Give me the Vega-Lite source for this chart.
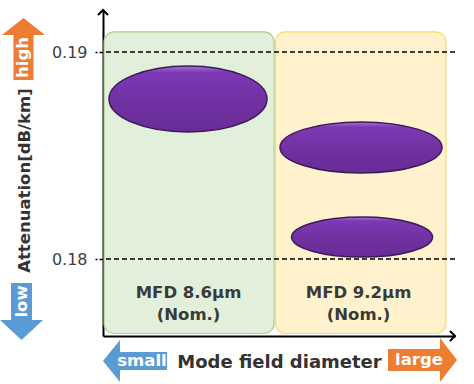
{
  "$schema": "https://vega.github.io/schema/vega-lite/v6.json",
  "width": 352,
  "height": 326,
  "autosize": {"type": "none"},
  "padding": {"left": 103, "top": 10, "right": 19, "bottom": 48},
  "config": {"view": {"stroke": null}, "font": "DejaVu Sans"},
  "datasets": {
    "regions": [
      {"group": "8.6", "x": 0.03, "x2": 4.86, "y": 0.1764, "y2": 0.19097},
      {"group": "9.2", "x": 4.9, "x2": 9.74, "y": 0.1764, "y2": 0.19097}
    ],
    "levels": [{"value": 0.18}, {"value": 0.19}],
    "ellipses": [
      {"id": "A", "mfd": "8.6", "x": 2.415, "att": 0.18773},
      {"id": "B", "mfd": "9.2", "x": 7.33, "att": 0.18539},
      {"id": "C", "mfd": "9.2", "x": 7.36, "att": 0.18106}
    ],
    "labels": [
      {"x": 2.43, "att": 0.17836, "text": "MFD 8.6μm\n(Nom.)"},
      {"x": 7.26, "att": 0.17836, "text": "MFD 9.2μm\n(Nom.)"}
    ],
    "arrows": [
      {"dir": "high", "x": -2.259, "att": 0.19015, "tx": -2.273, "tatt": 0.18974},
      {"dir": "low", "x": -2.315, "att": 0.17746, "tx": -2.287, "tatt": 0.17795},
      {"dir": "small", "x": 0.909, "att": 0.17507, "tx": 1.108, "tatt": 0.17507},
      {"dir": "large", "x": 9.077, "att": 0.17512, "tx": 8.977, "tatt": 0.17512}
    ],
    "axisEnds": [
      {"end": "y", "x": 0, "att": 0.19203},
      {"end": "x", "x": 10, "att": 0.17628}
    ]
  },
  "layer": [
    {
      "data": {"name": "regions"},
      "mark": {"type": "rect", "cornerRadius": 10, "strokeWidth": 1.2},
      "encoding": {
        "x": {
          "field": "x", "type": "quantitative",
          "scale": {"domain": [0, 10], "nice": false, "zero": false},
          "axis": {
            "domain": true, "domainColor": "black", "domainWidth": 2,
            "ticks": false, "labels": false, "grid": false,
            "title": "Mode field diameter", "titleX": 176, "titleY": 26,
            "titleAlign": "center", "titleBaseline": "middle",
            "titleFontSize": 18, "titleFontWeight": "bold", "titleColor": "#333333",
            "titleFont": "DejaVu Sans", "titlePadding": 0
          }
        },
        "x2": {"field": "x2"},
        "y": {
          "field": "y", "type": "quantitative",
          "scale": {"domain": [0.17628, 0.19203], "nice": false, "zero": false},
          "axis": {
            "values": [0.18, 0.19], "format": ".2f", "grid": false,
            "domainColor": "black", "domainWidth": 2,
            "tickColor": "black", "tickSize": 8, "tickWidth": 1.5, "tickDash": [4, 2],
            "labelFontSize": 16, "labelColor": "#404040", "labelPadding": 8, "labelFont": "DejaVu Sans",
            "title": "Attenuation[dB/km]", "titleX": -79, "titleY": 170, "titleAngle": -90,
            "titleAlign": "center", "titleBaseline": "middle",
            "titleFontSize": 16.5, "titleFontWeight": "bold", "titleColor": "#333333", "titleFont": "DejaVu Sans"
          }
        },
        "y2": {"field": "y2"},
        "fill": {"field": "group", "type": "nominal", "scale": {"domain": ["8.6", "9.2"], "range": ["#e2efda", "#fff2cc"]}, "legend": null},
        "stroke": {"field": "group", "type": "nominal", "scale": {"domain": ["8.6", "9.2"], "range": ["#a9d18e", "#ffd966"]}, "legend": null}
      }
    },
    {
      "data": {"name": "levels"},
      "mark": {"type": "rule", "strokeDash": [5, 3], "strokeWidth": 1.5, "color": "black"},
      "encoding": {"y": {"field": "value", "type": "quantitative"}}
    },
    {
      "data": {"name": "ellipses"},
      "transform": [{"filter": "datum.id === 'A'"}],
      "mark": {
        "type": "point", "filled": true, "opacity": 1,
        "shape": "M -1 0 A 1 0.418 0 1 1 1 0 A 1 0.418 0 1 1 -1 0 Z",
        "size": 24964,
        "fill": {"gradient": "linear", "x1": 0, "y1": 0, "x2": 0, "y2": 1,
          "stops": [{"offset": 0, "color": "#a476d6"}, {"offset": 0.1, "color": "#7c38b4"}, {"offset": 0.6, "color": "#7030a0"}, {"offset": 1, "color": "#682c96"}]},
        "stroke": "#3b1a57", "strokeWidth": 1.5
      },
      "encoding": {"x": {"field": "x", "type": "quantitative"}, "y": {"field": "att", "type": "quantitative"}}
    },
    {
      "data": {"name": "ellipses"},
      "transform": [{"filter": "datum.id === 'B'"}],
      "mark": {
        "type": "point", "filled": true, "opacity": 1,
        "shape": "M -1 0 A 1 0.315 0 1 1 1 0 A 1 0.315 0 1 1 -1 0 Z",
        "size": 26244,
        "fill": {"gradient": "linear", "x1": 0, "y1": 0, "x2": 0, "y2": 1,
          "stops": [{"offset": 0, "color": "#a476d6"}, {"offset": 0.1, "color": "#7c38b4"}, {"offset": 0.6, "color": "#7030a0"}, {"offset": 1, "color": "#682c96"}]},
        "stroke": "#3b1a57", "strokeWidth": 1.5
      },
      "encoding": {"x": {"field": "x", "type": "quantitative"}, "y": {"field": "att", "type": "quantitative"}}
    },
    {
      "data": {"name": "ellipses"},
      "transform": [{"filter": "datum.id === 'C'"}],
      "mark": {
        "type": "point", "filled": true, "opacity": 1,
        "shape": "M -1 0 A 1 0.284 0 1 1 1 0 A 1 0.284 0 1 1 -1 0 Z",
        "size": 19881,
        "fill": {"gradient": "linear", "x1": 0, "y1": 0, "x2": 0, "y2": 1,
          "stops": [{"offset": 0, "color": "#a476d6"}, {"offset": 0.1, "color": "#7c38b4"}, {"offset": 0.6, "color": "#7030a0"}, {"offset": 1, "color": "#682c96"}]},
        "stroke": "#3b1a57", "strokeWidth": 1.5
      },
      "encoding": {"x": {"field": "x", "type": "quantitative"}, "y": {"field": "att", "type": "quantitative"}}
    },
    {
      "data": {"name": "labels"},
      "mark": {"type": "text", "lineBreak": "\n", "lineHeight": 22, "fontSize": 16.5, "fontWeight": "bold", "color": "#3a3a3a", "align": "center", "baseline": "middle", "font": "DejaVu Sans"},
      "encoding": {"x": {"field": "x", "type": "quantitative"}, "y": {"field": "att", "type": "quantitative"}, "text": {"field": "text"}}
    },
    {
      "data": {"name": "arrows"},
      "transform": [{"filter": "datum.dir === 'high'"}],
      "mark": {"type": "point", "filled": true, "opacity": 1, "clip": false, "color": "#ed7d31", "strokeWidth": 0,
        "shape": "M 0 -1 L 0.694 -0.452 L 0.323 -0.452 L 0.323 1 L -0.323 1 L -0.323 -0.452 L -0.694 -0.452 Z", "size": 3844},
      "encoding": {"x": {"field": "x", "type": "quantitative"}, "y": {"field": "att", "type": "quantitative"}}
    },
    {
      "data": {"name": "arrows"},
      "transform": [{"filter": "datum.dir === 'low'"}],
      "mark": {"type": "point", "filled": true, "opacity": 1, "clip": false, "color": "#5b9bd5", "strokeWidth": 0,
        "shape": "M 0 1 L 0.754 0.298 L 0.368 0.298 L 0.368 -1 L -0.368 -1 L -0.368 0.298 L -0.754 0.298 Z", "size": 3249},
      "encoding": {"x": {"field": "x", "type": "quantitative"}, "y": {"field": "att", "type": "quantitative"}}
    },
    {
      "data": {"name": "arrows"},
      "transform": [{"filter": "datum.dir === 'small'"}],
      "mark": {"type": "point", "filled": true, "opacity": 1, "clip": false, "color": "#5b9bd5", "strokeWidth": 0,
        "shape": "M -1 0 L -0.469 -0.656 L -0.469 -0.281 L 1 -0.281 L 1 0.281 L -0.469 0.281 L -0.469 0.656 Z", "size": 4096},
      "encoding": {"x": {"field": "x", "type": "quantitative"}, "y": {"field": "att", "type": "quantitative"}}
    },
    {
      "data": {"name": "arrows"},
      "transform": [{"filter": "datum.dir === 'large'"}],
      "mark": {"type": "point", "filled": true, "opacity": 1, "clip": false, "color": "#ed7d31", "strokeWidth": 0,
        "shape": "M 1 0 L 0.507 -0.638 L 0.507 -0.319 L -1 -0.319 L -1 0.319 L 0.507 0.319 L 0.507 0.638 Z", "size": 4761},
      "encoding": {"x": {"field": "x", "type": "quantitative"}, "y": {"field": "att", "type": "quantitative"}}
    },
    {
      "data": {"name": "arrows"},
      "transform": [{"filter": "datum.dir === 'high' || datum.dir === 'low'"}],
      "mark": {"type": "text", "angle": 270, "fontSize": 16.5, "fontWeight": "bold", "color": "white", "align": "center", "baseline": "middle", "font": "DejaVu Sans"},
      "encoding": {"x": {"field": "tx", "type": "quantitative"}, "y": {"field": "tatt", "type": "quantitative"}, "text": {"field": "dir"}}
    },
    {
      "data": {"name": "arrows"},
      "transform": [{"filter": "datum.dir === 'small' || datum.dir === 'large'"}],
      "mark": {"type": "text", "fontSize": 16.5, "fontWeight": "bold", "color": "white", "align": "center", "baseline": "middle", "font": "DejaVu Sans"},
      "encoding": {"x": {"field": "tx", "type": "quantitative"}, "y": {"field": "tatt", "type": "quantitative"}, "text": {"field": "dir"}}
    },
    {
      "data": {"name": "axisEnds"},
      "transform": [{"filter": "datum.end === 'y'"}],
      "mark": {"type": "point", "filled": false, "opacity": 1, "stroke": "black", "strokeWidth": 2, "shape": "M -1 1 L 0 0 L 1 1", "size": 100},
      "encoding": {"x": {"field": "x", "type": "quantitative"}, "y": {"field": "att", "type": "quantitative"}}
    },
    {
      "data": {"name": "axisEnds"},
      "transform": [{"filter": "datum.end === 'x'"}],
      "mark": {"type": "point", "filled": false, "opacity": 1, "stroke": "black", "strokeWidth": 2, "shape": "M -1 -1 L 0 0 L -1 1", "size": 100},
      "encoding": {"x": {"field": "x", "type": "quantitative"}, "y": {"field": "att", "type": "quantitative"}}
    }
  ]
}
